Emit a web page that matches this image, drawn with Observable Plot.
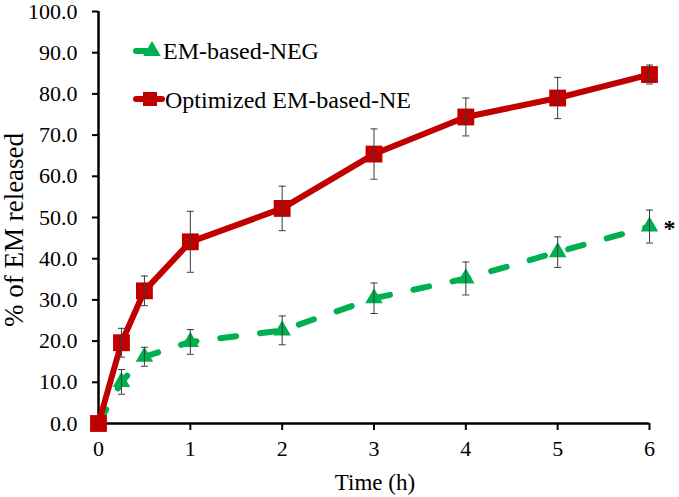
<!DOCTYPE html>
<html>
<head>
<meta charset="utf-8">
<script src="https://cdn.jsdelivr.net/npm/d3@7"></script>
<script src="https://cdn.jsdelivr.net/npm/@observablehq/plot@0.6"></script>
<style>
  body { margin: 0; background: white; }
  #wrap { position: relative; width: 679px; height: 497px; }
  #legend { position: absolute; left: 0; top: 0; pointer-events: none; }
  #wrap svg, #wrap svg text { font-family: "Liberation Serif", "Times New Roman", Tinos, serif !important; }
</style>
</head>
<body>
<div id="wrap"></div>
<script>
// Data
const times = [0, 0.25, 0.5, 1, 2, 3, 4, 5, 6];
const negValues = [0, 10.1, 16.2, 19.8, 22.6, 30.4, 35.2, 41.6, 47.8];
const negSD = [0, 3.0, 2.3, 3.0, 3.5, 3.7, 4.0, 3.7, 4.0];
const optValues = [0, 19.6, 32.2, 44.1, 52.2, 65.4, 74.4, 79.0, 84.7];
const optSD = [0, 3.5, 3.6, 7.4, 5.4, 6.1, 4.6, 5.0, 2.3];
const seriesNames = ["EM-based-NEG", "Optimized EM-based-NE"];
const xTicks = [0, 1, 2, 3, 4, 5, 6];
const yTicks = [0, 10, 20, 30, 40, 50, 60, 70, 80, 90, 100];
const xTitle = "Time (h)";
const yTitle = "% of EM released";
const significance = [{t: 6, label: "*"}];

const green = "#00B050", red = "#C00000", errColor = "#3a3a3a";

const neg = times.map((t, i) => ({t, v: negValues[i], sd: negSD[i]}));
const opt = times.map((t, i) => ({t, v: optValues[i], sd: optSD[i]}));
const sig = significance.map(s => ({...s, v: negValues[times.indexOf(s.t)]}));

const capSymbol = {
  draw(ctx, size) {
    const w = Math.sqrt(size / Math.PI);
    ctx.moveTo(-w, 0);
    ctx.lineTo(w, 0);
  }
};

function errMarks(data) {
  const d = data.filter(e => e.sd > 0);
  return [
    Plot.ruleX(d, {x: "t", y1: e => e.v - e.sd, y2: e => e.v + e.sd, stroke: errColor, strokeWidth: 1}),
    Plot.dot(d, {x: "t", y: e => e.v + e.sd, symbol: capSymbol, r: 3.5, stroke: errColor, strokeWidth: 1, fill: "none"}),
    Plot.dot(d, {x: "t", y: e => e.v - e.sd, symbol: capSymbol, r: 3.5, stroke: errColor, strokeWidth: 1, fill: "none"})
  ];
}

const chart = Plot.plot({
  width: 679,
  height: 497,
  marginLeft: 98,
  marginRight: 30,
  marginTop: 11,
  marginBottom: 74,
  x: {domain: [0, 6]},
  y: {domain: [0, 100]},
  style: {background: "white", color: "black", fontFamily: "Liberation Serif"},
  marks: [
    Plot.axisY({ticks: yTicks, tickFormat: d => d.toFixed(1), tickSize: 6, tickPadding: 15, fontSize: 22, label: null, strokeWidth: 2}),
    Plot.axisX({ticks: xTicks, tickFormat: d => String(d), tickSize: 7, tickPadding: 10, fontSize: 22, label: null, strokeWidth: 2}),
    Plot.ruleX([0], {stroke: "black", strokeWidth: 2.5}),
    Plot.ruleY([0], {stroke: "black", strokeWidth: 2.5}),
    // green dashed series
    Plot.line(neg, {x: "t", y: "v", stroke: green, strokeWidth: 6, strokeDasharray: "16,24", strokeLinecap: "round", strokeLinejoin: "round"}),
    Plot.dot(neg, {x: "t", y: "v", symbol: "triangle", r: 6.5, fill: green}),
    ...errMarks(neg),
    // red solid series
    Plot.line(opt, {x: "t", y: "v", stroke: red, strokeWidth: 6, strokeLinejoin: "round"}),
    Plot.dot(opt, {x: "t", y: "v", symbol: "square", r: 9.5, fill: red}),
    ...errMarks(opt),
    Plot.text(sig, {x: "t", y: "v", text: "label", dx: 20, dy: 2, fontSize: 24, fontWeight: "bold"})
  ]
});

const wrap = document.getElementById("wrap");
wrap.appendChild(chart);

// Overlay: axis titles and legend
const leg = d3.select(wrap).append("svg")
  .attr("id", "legend").attr("width", 679).attr("height", 497);
leg.append("text").attr("transform", "translate(23,230) rotate(-90)")
  .attr("text-anchor", "middle").attr("font-size", 27).text(yTitle);
leg.append("text").attr("x", 375).attr("y", 490)
  .attr("text-anchor", "middle").attr("font-size", 23).text(xTitle);
// row 1: green
const g1 = leg.append("g").attr("transform", "translate(0,51)");
g1.append("line").attr("x1", 136).attr("x2", 146).attr("y1", 0).attr("y2", 0)
  .attr("stroke", green).attr("stroke-width", 6).attr("stroke-linecap", "round");
g1.append("path").attr("d", d3.symbol(d3.symbolTriangle, Math.PI * 6.5 * 6.5)()).attr("transform", "translate(152,0)").attr("fill", green);
leg.append("text").attr("x", 163).attr("y", 59).attr("font-size", 24).text(seriesNames[0]);
// row 2: red
const g2 = leg.append("g").attr("transform", "translate(0,99)");
g2.append("line").attr("x1", 136).attr("x2", 162).attr("y1", 0).attr("y2", 0)
  .attr("stroke", red).attr("stroke-width", 6).attr("stroke-linecap", "round");
g2.append("rect").attr("x", 143).attr("y", -7).attr("width", 14).attr("height", 14).attr("fill", red);
leg.append("text").attr("x", 165).attr("y", 108).attr("font-size", 24).text(seriesNames[1]);
</script>
</body>
</html>
